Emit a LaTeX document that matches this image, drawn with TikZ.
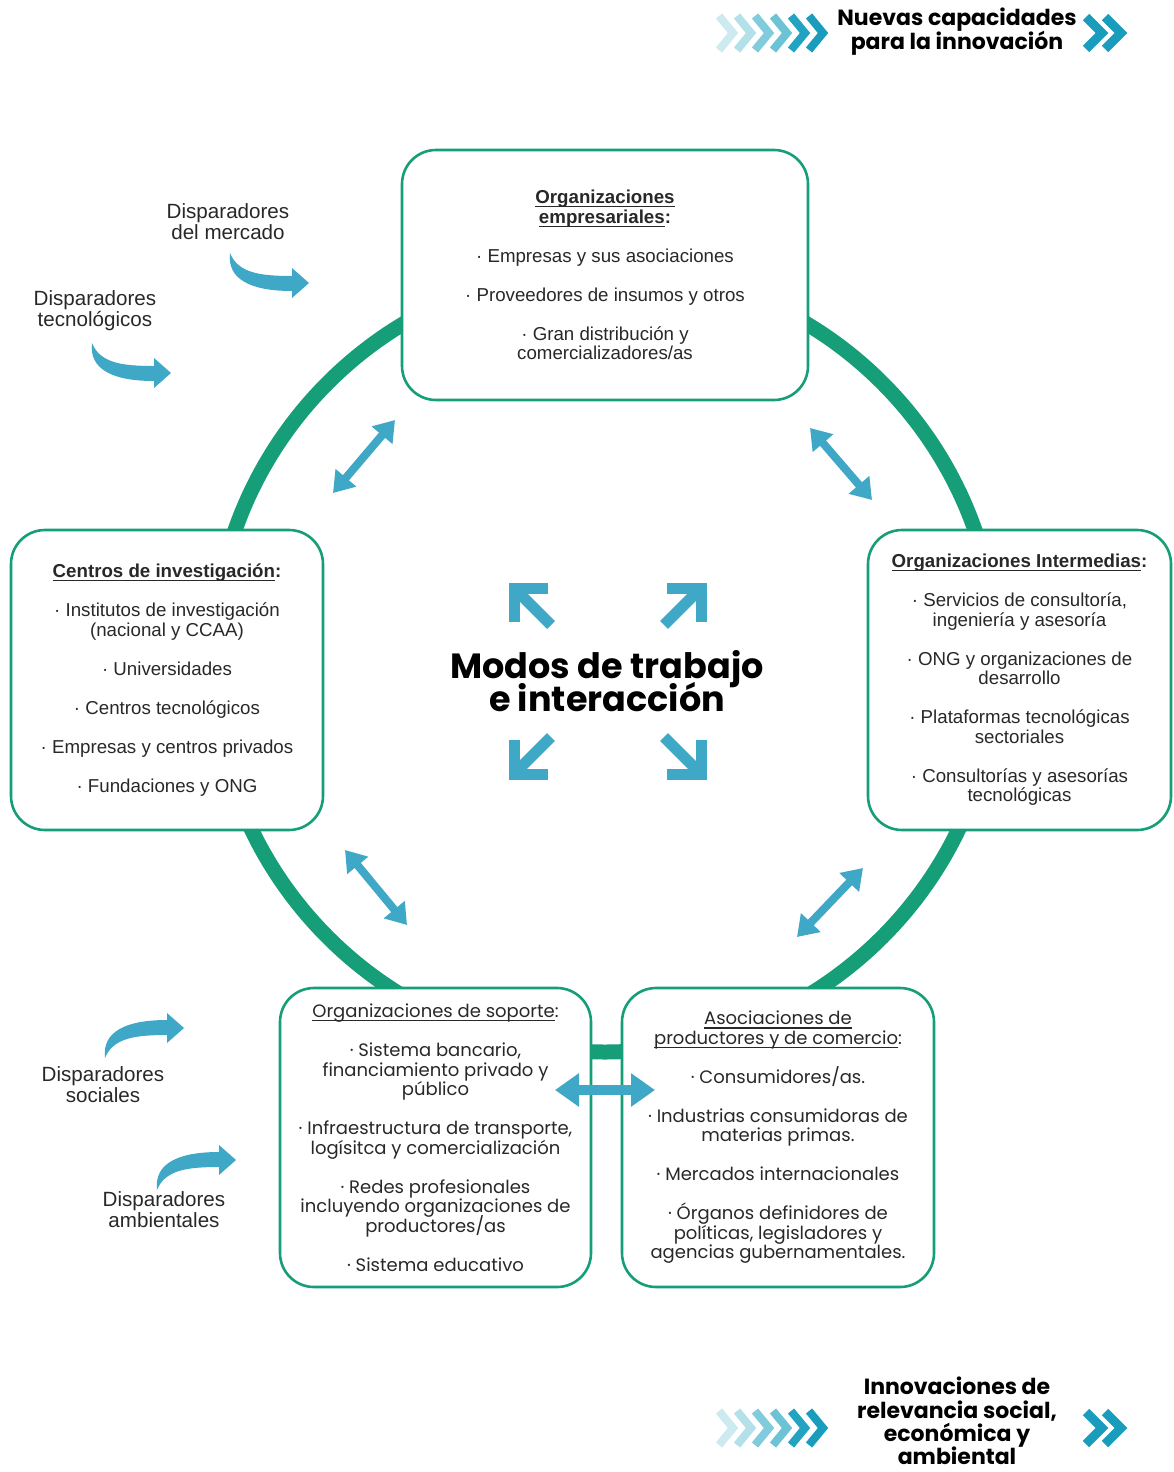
\documentclass[tikz,border=0pt]{standalone}
\usepackage{fontspec}
\setmainfont{Liberation Sans}
\newfontfamily\popfont{Poppins}
\usetikzlibrary{arrows.meta}

\definecolor{ringgreen}{RGB}{22,158,120}
\definecolor{arrowblue}{RGB}{62,168,198}
\definecolor{textgray}{RGB}{40,40,40}
\definecolor{chevA}{RGB}{205,234,241}
\definecolor{chevB}{RGB}{180,224,234}
\definecolor{chevC}{RGB}{128,203,220}
\definecolor{chevD}{RGB}{108,195,214}
\definecolor{chevE}{RGB}{34,163,194}
\definecolor{chevF}{RGB}{26,156,189}

\newcommand{\ulined}[1]{\setbox0\hbox{#1}\rlap{\rule[-1.8pt]{\wd0}{0.6pt}}\box0}

\tikzset{
  trigger/.pic={
    \fill[arrowblue] (0,0) .. controls (-3,26) and (20,38) .. (62,38) -- (62,45) -- (79,30)
      -- (62,15) -- (62,23) .. controls (30,23) and (8,20) .. (0,0) -- cycle;
  },
  cornerarrow/.pic={
    \draw[arrowblue,line width=5.5pt,miter limit=10] (17,-17) -- (-17,-17) -- (-17,17);
    \draw[arrowblue,line width=5.5pt] (-17,-17) -- (20,20);
  }
}

\begin{document}
\lineskiplimit=-6pt
\begin{tikzpicture}[x=0.5pt,y=-0.5pt,
  every node/.style={text=textgray},
  orgbox/.style={draw=ringgreen,line width=1.3pt,rounded corners=17pt,fill=white,align=center,
    font=\fontsize{9.35}{9.75}\selectfont},
  popbox/.style={orgbox,font=\popfont\fontsize{9}{9.75}\selectfont},
  trigtext/.style={align=center,font=\fontsize{10.3}{10.5}\selectfont},
  dbl/.style={arrowblue,line width=4pt,>={Triangle[length=10pt,width=13pt]},<->},
  chevline/.style={line width=4pt,miter limit=10}]

\useasboundingbox (0,0) rectangle (1173,1472);

% ring behind the boxes
\draw[ringgreen,line width=7.5pt] (605,660) circle (196pt);

\node[orgbox,minimum width=203pt,minimum height=125pt] (emp) at (605,275)
  {\textbf{\ulined{Organizaciones}}\\\textbf{\ulined{empresariales}:}\\[9.75pt]
   · Empresas y sus asociaciones\\[9.75pt]
   · Proveedores de insumos y otros\\[9.75pt]
   · Gran distribución y\\comercializadores/as};

\node[orgbox,minimum width=156pt,minimum height=150pt] (inv) at (167,680)
  {\textbf{\ulined{Centros de investigación}:}\\[9.75pt]
   · Institutos de investigación\\(nacional y CCAA)\\[9.75pt]
   · Universidades\\[9.75pt]
   · Centros tecnológicos\\[9.75pt]
   · Empresas y centros privados\\[9.75pt]
   · Fundaciones y ONG};

\node[orgbox,minimum width=151.5pt,minimum height=150pt] (inter) at (1019.5,680)
  {\textbf{\ulined{Organizaciones Intermedias}:}\\[9.75pt]
   · Servicios de consultoría,\\ingeniería y asesoría\\[9.75pt]
   · ONG y organizaciones de\\desarrollo\\[9.75pt]
   · Plataformas tecnológicas\\sectoriales\\[9.75pt]
   · Consultorías y asesorías\\tecnológicas};

\node[popbox,minimum width=155.5pt,minimum height=149.5pt] (sop) at (435.5,1137.5)
  {\ulined{Organizaciones de soporte}:\\[9.75pt]
   · Sistema bancario,\\financiamiento privado y\\público\\[9.75pt]
   · Infraestructura de transporte,\\logísitca y comercialización\\[9.75pt]
   · Redes profesionales\\incluyendo organizaciones de\\productores/as\\[9.75pt]
   · Sistema educativo};

\node[popbox,minimum width=156pt,minimum height=149.5pt] (asoc) at (778,1137.5)
  {\ulined{Asociaciones de}\\\ulined{productores y de comercio}:\\[9.75pt]
   · Consumidores/as.\\[9.75pt]
   · Industrias consumidoras de\\materias primas.\\[9.75pt]
   · Mercados internacionales\\[9.75pt]
   · Órganos definidores de\\políticas, legisladores y\\agencias gubernamentales.};

% double arrows between the groups
\coordinate (a1) at (333,493); \coordinate (b1) at (395,420);
\coordinate (a2) at (810,428); \coordinate (b2) at (872,500);
\coordinate (a3) at (345,850); \coordinate (b3) at (407,925);
\coordinate (a4) at (863,868); \coordinate (b4) at (797,937);
\coordinate (a5) at (555,1090); \coordinate (b5) at (655,1090);
\draw[dbl] (a1) -- (b1);
\draw[dbl] (a2) -- (b2);
\draw[dbl] (a3) -- (b3);
\draw[dbl] (a4) -- (b4);
\draw[dbl,line width=5pt,>={Triangle[length=12pt,width=16pt]}] (a5) -- (b5);

% centre
\node[align=center,font=\popfont\bfseries\fontsize{17.5}{16.5}\selectfont,text=black] (modos) at (607,681)
  {Modos de trabajo\\e interacción};
\pic at (531,605) {cornerarrow};
\pic[xscale=-1] at (684,605) {cornerarrow};
\pic[yscale=-1] at (531,757) {cornerarrow};
\pic[xscale=-1,yscale=-1] at (684,757) {cornerarrow};

% triggers
\node[trigtext] (mercado) at (228,222) {Disparadores\\del mercado};
\node[trigtext] (tecno) at (95,311) {Disparadores\\tecnológicos};
\node[trigtext] (social) at (103,1085) {Disparadores\\sociales};
\node[trigtext] (ambiente) at (164,1210) {Disparadores\\ambientales};
\pic at (230,253) {trigger};
\pic at (92,343) {trigger};
\pic[yscale=-1] at (105,1058) {trigger};
\pic[yscale=-1] at (157,1190) {trigger};

% header and footer
\foreach \cx/\cc in {727/chevA,745/chevB,763/chevC,781/chevD,799/chevE,817/chevF}{
  \draw[\cc,chevline] (\cx-8,16) -- (\cx+6,33) -- (\cx-8,50);
  \draw[\cc,chevline] (\cx-8,1411) -- (\cx+6,1428) -- (\cx-8,1445);
}
\foreach \cx in {1095,1114}{
  \draw[chevF,chevline,line width=4.5pt] (\cx-9,17) -- (\cx+7,33) -- (\cx-9,49);
  \draw[chevF,chevline,line width=4.5pt] (\cx-9,1412) -- (\cx+7,1428) -- (\cx-9,1444);
}
\node[align=center,font=\popfont\bfseries\fontsize{11}{12}\selectfont,text=black] (capac) at (957,32)
  {Nuevas capacidades\\para la innovación};
\node[align=center,font=\popfont\bfseries\fontsize{11}{11.6}\selectfont,text=black] (innov) at (957,1421)
  {Innovaciones de\\relevancia social,\\económica y\\ambiental};

\end{tikzpicture}
\end{document}
